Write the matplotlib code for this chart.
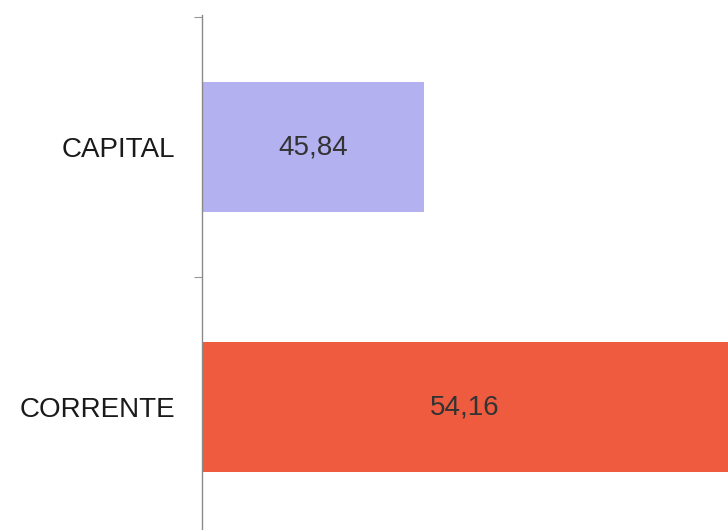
import matplotlib.pyplot as plt
from matplotlib.ticker import FixedLocator

plt.rcParams['font.family'] = ['Liberation Sans', 'DejaVu Sans']

categorie = ['CORRENTE', 'CAPITAL']
valori = [54.16, 45.84]
etichette = ['54,16', '45,84']
colori = ['#EF5B3F', '#B4B1F1']

fig = plt.figure(figsize=(7.28, 5.30), dpi=100)
ax = fig.add_axes([202 / 728, 0.0, 526 / 728, 1 - 15 / 530])

x_min, x_max = 40, 40 + 526 / 38
ax.barh(range(len(categorie)), valori, height=0.5, color=colori, left=0)
ax.set_xlim(x_min, x_max)
ax.set_ylim(-0.473, 1.508)

# value labels centred on the visible part of each bar
for i, (v, txt) in enumerate(zip(valori, etichette)):
    xc = (x_min + min(v, x_max)) / 2
    ax.text(xc, i, txt, ha='center', va='center', fontsize=20, color='#333333')

ax.set_yticks(range(len(categorie)))
ax.set_yticklabels(categorie, fontsize=20, color='#1a1a1a')
ax.tick_params(axis='y', which='major', length=0, pad=19)
ax.yaxis.set_minor_locator(FixedLocator([0.5, 1.5]))
ax.tick_params(axis='y', which='minor', length=6, color='#999999', width=0.8)

ax.set_xticks([])
for side in ['top', 'right', 'bottom']:
    ax.spines[side].set_visible(False)
ax.spines['left'].set_color('#8a8a8a')
ax.spines['left'].set_linewidth(1.0)

fig.savefig('out.png', dpi=100)
